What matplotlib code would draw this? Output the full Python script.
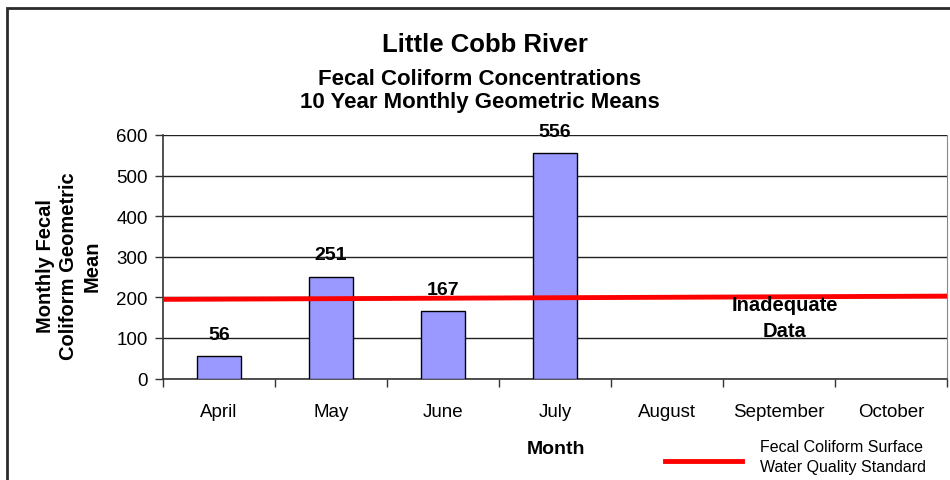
import matplotlib
matplotlib.use("Agg")
import matplotlib.pyplot as plt
from matplotlib.lines import Line2D
from matplotlib.patches import Rectangle

plt.rcParams['font.family'] = ['Liberation Sans', 'DejaVu Sans']

months = ["April", "May", "June", "July", "August", "September", "October"]
geo_means = [56, 251, 167, 556, None, None, None]
bar_labels = ["56", "251", "167", "556"]
standard_ends = [195, 203]          # surface water quality standard line, left/right
y_ticks = [0, 100, 200, 300, 400, 500, 600]

W, H = 950, 481
fig = plt.figure(figsize=(W / 100, H / 100), dpi=100)

# outer chart frame (open on right and bottom)
fig.add_artist(Rectangle((7 / W, -0.1), 1.2, 1 - 9 / H + 0.1, transform=fig.transFigure,
                         fill=False, edgecolor="#2b2b2b", linewidth=2.0))

left, right, bottom, top = 163 / W, 947 / W, 1 - 379.5 / H, 1 - 136 / H
ax = fig.add_axes([left, bottom, right - left, top - bottom])

n = len(months)
xs = list(range(n))
vals = [v for v in geo_means if v is not None]
ax.bar(xs[:len(vals)], vals, width=0.4, color="#9999ff", edgecolor="black",
       linewidth=1.0, zorder=3)
for x, v, lab in zip(xs, vals, bar_labels):
    ax.annotate(lab, (x, v), xytext=(0, 9.5), textcoords="offset points",
                ha="center", va="bottom", fontsize=14, fontweight="bold", zorder=5)

ax.plot([-0.5, n - 0.5], standard_ends, color="#ff0000", linewidth=3.5,
        solid_capstyle="butt", zorder=4)

ax.set_xlim(-0.5, n - 0.5)
ax.set_ylim(0, 600)
ax.set_yticks(y_ticks)
ax.set_yticklabels([str(t) for t in y_ticks], fontsize=13.5)
ax.yaxis.grid(True, color="#222222", linewidth=1.0, zorder=0)
ax.set_axisbelow(True)
ax.tick_params(axis="y", length=6, width=1, color="#333333", pad=5)

# category boundaries as ticks, names centred between them
ax.set_xticks([i - 0.5 for i in range(n + 1)])
ax.set_xticklabels([])
ax.set_xticks(xs, minor=True)
ax.set_xticklabels(months, minor=True, fontsize=13.5)
ax.tick_params(axis="x", which="major", length=6, width=1, color="#333333")
ax.tick_params(axis="x", which="minor", length=0, pad=18)

for s in ["left", "bottom"]:
    ax.spines[s].set_color("#333333")
    ax.spines[s].set_linewidth(1.2)
ax.spines["top"].set_visible(False)
ax.spines["right"].set_color("#888888")

fig.text(785 / W, 1 - 311 / H, "Inadequate", ha="center", va="baseline",
         fontsize=14.5, fontweight="bold", zorder=5)
fig.text(785 / W, 1 - 337 / H, "Data", ha="center", va="baseline",
         fontsize=14.5, fontweight="bold", zorder=5)

# titles
fig.text(485 / W, 1 - 52 / H, "Little Cobb River", ha="center", va="baseline",
         fontsize=18.5, fontweight="bold")
fig.text(480 / W, 1 - 85 / H, "Fecal Coliform Concentrations", ha="center",
         va="baseline", fontsize=16, fontweight="bold")
fig.text(480 / W, 1 - 108 / H, "10 Year Monthly Geometric Means", ha="center",
         va="baseline", fontsize=16, fontweight="bold")

# axis titles
fig.text(69 / W, 1 - 266 / H, "Monthly Fecal\nColiform Geometric\nMean", rotation=90,
         ha="center", va="center", fontsize=14.5, fontweight="bold", linespacing=1.3)
fig.text(556 / W, 1 - 454 / H, "Month", ha="center", va="baseline",
         fontsize=14, fontweight="bold")

# legend
fig.add_artist(Line2D([665 / W, 742 / W], [1 - 462 / H, 1 - 462 / H],
                      transform=fig.transFigure, color="#ff0000", linewidth=3.5))
fig.text(760 / W, 1 - 452 / H, "Fecal Coliform Surface", ha="left", va="baseline",
         fontsize=11.5)
fig.text(760 / W, 1 - 472 / H, "Water Quality Standard", ha="left", va="baseline",
         fontsize=11.5)

fig.savefig("out.png", dpi=100)
